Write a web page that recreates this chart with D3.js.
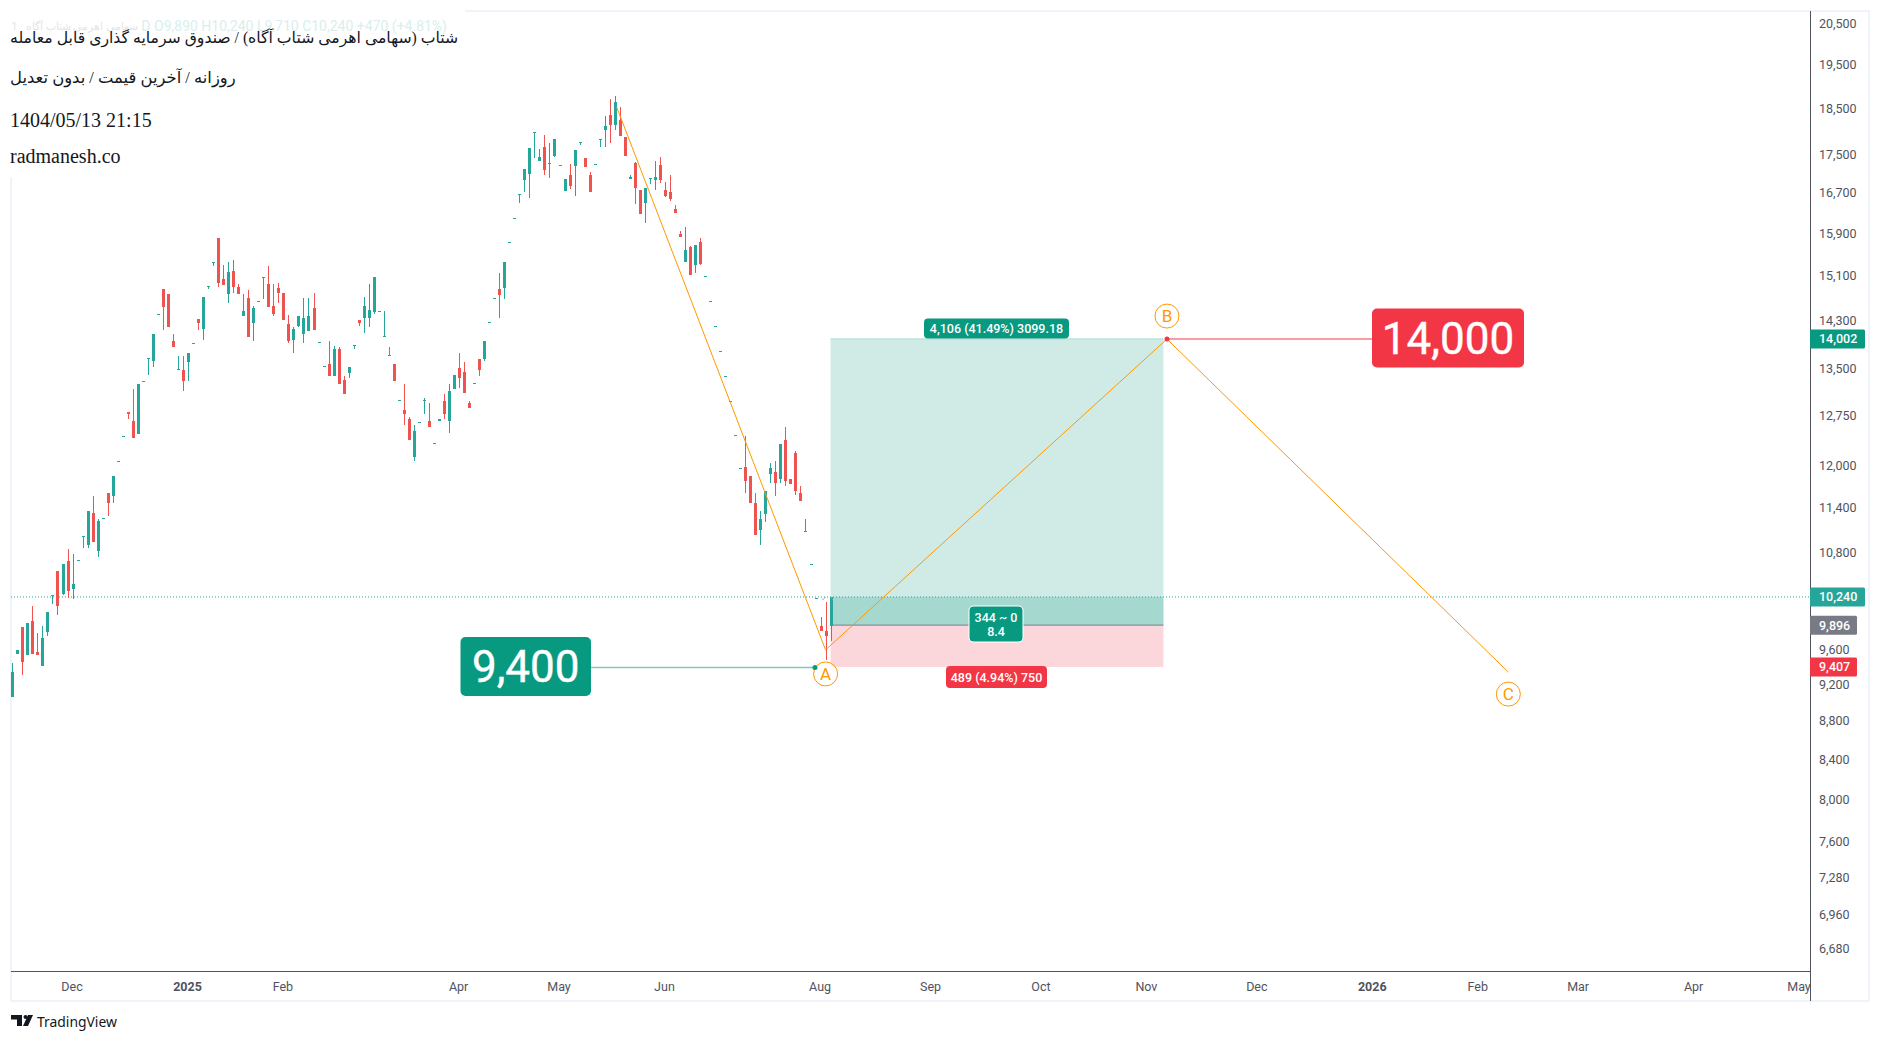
<!DOCTYPE html>
<html>
<head>
<meta charset="utf-8">
<script src="https://cdn.jsdelivr.net/npm/d3@7"></script>
<style>
  body { margin: 0; background: #fff; }
  svg { display: block; }
  text { font-family: Roboto, sans-serif; }
</style>
</head>
<body>
<svg id="chart" width="1880" height="1041"></svg>
<script>
// daily bars
const opens = [
  9070,9560,9870,9540,9950,9580,9420,9810,10270,10570,
  10280,10700,10340,10710,11030,10900,11340,10830,11270,11610,
  11570,12080,12450,12820,12680,12480,13310,13680,13640,14430,
  14870,14780,13960,13500,13490,13610,13940,14350,14180,14930,
  15370,15830,15050,14790,15210,14920,14390,14720,14270,14660,
  15100,14960,14580,14900,14810,14250,13990,14230,14080,14130,
  14530,13950,13550,13590,13390,13840,13330,13430,13900,14320,
  14370,14370,14460,14490,14050,13740,13590,13000,12850,12700,
  12130,12660,12980,12670,12340,12680,12990,12680,13180,13510,
  13460,12950,13270,13670,13660,14290,14720,14870,14900,15750,
  16220,16700,16970,17110,18000,17380,17680,17330,17470,17290,
  16760,17090,17260,17780,17430,17090,17310,17850,18050,18380,
  18140,18270,17880,16990,17340,16780,16520,17020,16970,17280,
  16780,16740,16400,15910,15380,15660,15320,15740,15110,14660,
  14220,13800,13390,12990,12460,11970,11990,11860,11470,11110,
  11330,11880,11920,11810,12390,11810,12200,11610,11090,10660,
  10230,9880,9820,9890
];
const highs = [
  9450,9600,9870,9920,10130,9800,9880,10050,10270,10570,
  10660,10850,10790,10710,11030,11360,11570,11260,11270,11610,
  11860,12080,12450,12820,13180,13260,13310,13680,14090,14430,
  14870,14780,14090,13720,13720,13770,13940,14350,14740,14930,
  15370,15830,15320,15380,15400,14970,14780,14850,14580,14660,
  15100,15290,14960,14990,14810,14420,14200,14390,14720,14720,
  14810,13950,13550,13960,13890,13870,13390,13540,13900,14320,
  14740,14960,15100,14490,14490,13870,13590,13000,13250,12730,
  12620,12660,13040,12950,12340,12710,13090,13250,13410,13770,
  13620,12990,13270,13670,13970,14290,14720,15160,15380,15750,
  16220,16700,17200,17640,18000,17620,17940,17750,17850,17290,
  16990,17320,17600,17780,17440,17150,17310,17850,18360,18720,
  18790,18560,17880,17090,17360,16780,16820,17020,17380,17450,
  16930,17090,16480,15970,16030,15680,15700,15820,15110,14660,
  14220,13800,13390,12990,12460,11970,12440,11860,11620,11360,
  11650,12040,12080,12320,12580,11810,12230,11720,11250,10660,
  10230,9990,10180,10240
];
const lows = [
  9070,9560,9310,9540,9550,9540,9420,9770,10150,10020,
  10270,10230,10210,10710,10860,10860,10940,10750,11270,11300,
  11480,12080,12450,12700,12410,12480,13310,13410,13540,14430,
  14150,14210,13870,13500,13140,13310,13940,14150,13990,14880,
  15290,14920,14940,14620,14810,14790,14390,14040,13970,14660,
  14690,14550,14390,14620,14330,13940,13760,14200,13940,14130,
  14160,13950,13550,13380,13390,13260,13100,13360,13840,14230,
  14110,14210,14440,14490,14050,13710,13310,13000,12620,12380,
  12080,12660,12780,12580,12340,12680,12710,12500,13170,13200,
  13120,12880,13270,13390,13640,14290,14720,14370,14690,15750,
  16220,16520,16740,16620,17430,17380,17090,17010,17450,17290,
  16760,16800,16660,17720,17240,16740,17310,17680,17680,17750,
  18030,17900,17470,16990,16500,16300,16110,16890,16780,16910,
  16640,16560,16320,15850,15380,15140,15160,15320,15110,14660,
  14220,13800,13390,12990,12460,11970,11620,11470,11040,10910,
  11210,11760,11580,11760,11720,11750,11590,11510,11090,10660,
  10230,9830,9490,9710
];
const closes = [
  9350,9600,9460,9920,9550,9540,9740,10050,10270,10130,
  10660,10320,10400,10710,11030,11360,10940,11230,11270,11470,
  11860,12080,12450,12780,12410,13260,13310,13680,14090,14430,
  14550,14210,13870,13500,13310,13770,13940,14280,14740,14930,
  15370,14990,14940,15180,14920,14790,14480,14040,14530,14660,
  15100,14550,14440,14800,14330,13960,14180,14390,14370,14390,
  14160,13950,13550,13380,13840,13260,13100,13540,13900,14270,
  14580,14510,15100,14490,14050,13710,13310,13000,12780,12380,
  12530,12660,13010,12580,12340,12710,12780,13140,13410,13350,
  13120,12880,13270,13490,13970,14290,14720,14760,15380,15750,
  16220,16700,17200,17640,18000,17450,17180,17340,17850,17290,
  16990,16850,17600,17780,17240,16740,17310,17850,18120,18160,
  18670,17900,17470,17050,16820,16300,16820,17020,17050,16970,
  16660,16600,16320,15850,15590,15140,15700,15340,15110,14660,
  14220,13800,13390,12990,12460,11970,11780,11480,11040,11250,
  11650,11980,11760,12320,11790,11750,11640,11510,11090,10660,
  10230,9830,9770,10240
];

const priceTicks = [20500,19500,18500,17500,16700,15900,15100,14300,13500,12750,12000,
  11400,10800,9600,9200,8800,8400,8000,7600,7280,6960,6680];
const timeTickBars = [12,35,54,89,109,130,161,183,205,226,248,271,292,312,335,356];
const timeTickNames = ["Dec","2025","Feb","Apr","May","Jun","Aug","Sep","Oct","Nov","Dec","2026","Feb","Mar","Apr","May"];

// hand drawn pattern and position tool, in bars and prices
const abcBars = [120.4,162,230,298];
const abcPrices = [18545,9603,14000,9348];
const abcNames = ["A","B","C"];
const entryPrice = 9896, targetPrice = 14002, stopPrice = 9407, lastPrice = 10240;
const toolStart = 163, toolEnd = 229.3;

const titleLines = [
  "شتاب (سهامی اهرمی شتاب آگاه) / صندوق سرمایه گذاری قابل معامله",
  "روزانه / آخرین قیمت / بدون تعدیل",
  "1404/05/13 21:15",
  "radmanesh.co"
];

const up = "#26a69a", down = "#ef5350", orange = "#ff9800";
const tvGreen = "#089981", tvRed = "#f23645";

const svg = d3.select("#chart");

const x = d3.scaleLinear().domain([0, 163]).range([12.3, 830.6]);
const y = d3.scaleLog().domain([20500, 6680]).range([24.6, 949.2]);

// frame
svg.append("rect").attr("x", 11).attr("y", 11).attr("width", 1858).attr("height", 990)
  .attr("fill", "none").attr("stroke", "#f0f3fa").attr("stroke-width", 2);

// position tool
const toolX = x(toolStart), toolW = x(toolEnd) - x(toolStart);
const band = (top, bottom, fill) => svg.append("rect")
  .attr("x", toolX).attr("width", toolW)
  .attr("y", y(top)).attr("height", y(bottom) - y(top))
  .attr("fill", fill);
band(targetPrice, lastPrice, "#d0ebe6");
band(lastPrice, entryPrice, "#a5d9d0");
band(entryPrice, stopPrice, "#fbd6da");
svg.append("line").attr("x1", toolX).attr("x2", toolX + toolW)
  .attr("y1", y(targetPrice)).attr("y2", y(targetPrice)).attr("stroke", "#a8dcd0");
svg.append("line").attr("x1", toolX).attr("x2", toolX + toolW)
  .attr("y1", y(entryPrice)).attr("y2", y(entryPrice)).attr("stroke", "#787b86");

// last price line
svg.append("line").attr("x1", 11).attr("x2", 1810)
  .attr("y1", y(lastPrice)).attr("y2", y(lastPrice))
  .attr("stroke", up).attr("stroke-dasharray", "1 2");

// candles
const bars = d3.range(opens.length);
const candles = svg.append("g").attr("shape-rendering", "crispEdges");
candles.selectAll("rect.wick").data(bars).join("rect")
  .attr("class", "wick")
  .attr("x", (i) => Math.round(x(i)))
  .attr("width", 1)
  .attr("y", (i) => y(highs[i]))
  .attr("height", (i) => y(lows[i]) - y(highs[i]))
  .attr("fill", (i) => (closes[i] >= opens[i] ? up : down));
candles.selectAll("rect.body").data(bars).join("rect")
  .attr("class", "body")
  .attr("x", (i) => Math.round(x(i)) - 1)
  .attr("width", 3)
  .attr("y", (i) => y(Math.max(opens[i], closes[i])))
  .attr("height", (i) => Math.max(1, Math.abs(y(opens[i]) - y(closes[i]))))
  .attr("fill", (i) => (closes[i] >= opens[i] ? up : down));

// ABC pattern
const abcLine = d3.line().x((d) => x(d[0])).y((d) => y(d[1]));
svg.append("path")
  .attr("d", abcLine(d3.zip(abcBars, abcPrices)))
  .attr("fill", "none").attr("stroke", orange).attr("stroke-width", 1);

const abcOffsets = [24, -23, 22];
abcNames.forEach((name, k) => {
  const cx = x(abcBars[k + 1]), cy = y(abcPrices[k + 1]) + abcOffsets[k];
  svg.append("circle").attr("cx", cx).attr("cy", cy).attr("r", 12)
    .attr("fill", "#fff").attr("fill-opacity", 0.6).attr("stroke", orange);
  svg.append("text").attr("x", cx).attr("y", cy + 6).attr("text-anchor", "middle")
    .attr("font-size", 17).attr("fill", orange).text(name);
});

// small grey ticks beside the last bar
const tipBars = [161.4, 162.9];
tipBars.forEach((b, k) => {
  const bx = x(b), by = y(lastPrice);
  svg.append("line").attr("x1", bx).attr("x2", bx + 3)
    .attr("y1", by + (k ? 0 : 3)).attr("y2", by + (k ? 3 : 0))
    .attr("stroke", "#9598a1");
});

// small tool labels
function toolLabel(cx, cy, w, h, fill, lines, outline) {
  svg.append("rect").attr("x", cx - w / 2).attr("y", cy - h / 2)
    .attr("width", w).attr("height", h).attr("rx", 4)
    .attr("fill", fill).attr("stroke", outline || "none");
  lines.forEach((t, k) => {
    svg.append("text").attr("x", cx)
      .attr("y", cy + 4.5 + (k - (lines.length - 1) / 2) * 14)
      .attr("text-anchor", "middle").attr("font-size", 12.5)
      .attr("font-weight", 500).attr("fill", "#fff").text(t);
  });
}
toolLabel(996.5, 328.5, 145, 20, tvGreen, ["4,106 (41.49%) 3099.18"]);
toolLabel(996, 624, 54, 36, tvGreen, ["344 ~ 0", "8.4"], "#fff");
toolLabel(996.5, 677, 101, 22, tvRed, ["489 (4.94%) 750"]);

// big price callouts
function callout(boxX, boxW, price, fromX, fill, lineColor, label) {
  const cy = y(price);
  svg.append("line").attr("x1", fromX).attr("x2", boxX + (fromX > boxX ? boxW : 0))
    .attr("y1", cy).attr("y2", cy).attr("stroke", lineColor).attr("stroke-width", 1.5);
  svg.append("circle").attr("cx", fromX).attr("cy", cy).attr("r", 2.5).attr("fill", fill);
  svg.append("rect").attr("x", boxX).attr("y", cy - 30.5).attr("width", boxW).attr("height", 59)
    .attr("rx", 5).attr("fill", fill);
  svg.append("text").attr("x", boxX + boxW / 2).attr("y", cy + 14.5)
    .attr("text-anchor", "middle").attr("font-size", 44)
    .attr("stroke", "#fff").attr("stroke-width", 0.4)
    .attr("fill", "#fff").text(label);
}
callout(460.5, 130.5, 9400, 815, tvGreen, "#7fcabd", "9,400");
callout(1372, 152, 14000, 1167, tvRed, "#f77c80", "14,000");

// price axis
const priceAxis = d3.axisRight(y).tickValues(priceTicks).tickSize(0).tickPadding(9)
  .tickFormat(d3.format(","));
const priceG = svg.append("g").attr("transform", "translate(1810,0)").call(priceAxis);
priceG.select(".domain").remove();
priceG.selectAll("text").attr("font-size", 12.5).attr("fill", "#50535e")
  .attr("transform", "translate(0,-1)");

// time axis
const timeAxis = d3.axisBottom(x).tickValues(timeTickBars).tickSize(0).tickPadding(11)
  .tickFormat((d, k) => timeTickNames[k]);
const timeG = svg.append("g").attr("transform", "translate(0,971)").call(timeAxis);
timeG.select(".domain").remove();
timeG.selectAll("text").attr("font-size", 12.5)
  .attr("fill", "#50535e")
  .attr("transform", "translate(-1,0)")
  .attr("font-weight", (d, k) => (/^\d/.test(timeTickNames[k]) ? 700 : 400));

svg.append("line").attr("x1", 1810.5).attr("x2", 1810.5).attr("y1", 11).attr("y2", 1001).attr("stroke", "#50535e");
svg.append("line").attr("x1", 11).attr("x2", 1810).attr("y1", 971.5).attr("y2", 971.5).attr("stroke", "#50535e");

// price tags
function priceTag(price, w, fill) {
  const cy = y(price);
  svg.append("rect").attr("x", 1810).attr("y", cy - 9.5).attr("width", w).attr("height", 19)
    .attr("rx", 1.5).attr("fill", fill);
  svg.append("text").attr("x", 1819).attr("y", cy + 4.5).attr("font-size", 12.5)
    .attr("font-weight", 500).attr("fill", "#fff").text(d3.format(",")(price));
}
priceTag(targetPrice, 55, tvGreen);
priceTag(lastPrice, 55, up);
priceTag(entryPrice, 47, "#787b86");
priceTag(stopPrice, 47, tvRed);

// white panel with the title text
svg.append("rect").attr("width", 465).attr("height", 177).attr("fill", "#fff");
svg.append("text").attr("x", 447).attr("y", 31).attr("text-anchor", "end")
  .attr("font-size", 14).attr("fill", up).attr("opacity", 0.18)
  .text("D  O9,890  H10,240  L9,710  C10,240  +470 (+4.81%)");
svg.append("text").attr("x", 138).attr("y", 30).attr("text-anchor", "start")
  .attr("direction", "rtl").attr("font-size", 11).attr("fill", "#787b86").attr("opacity", 0.2)
  .text("سهامی اهرمی شتاب آگاه · 1");

const titleY = [43, 83, 127, 163];
const titleSizes = [15.7, 16.4, 20, 20];
titleLines.forEach((t, k) => {
  svg.append("text").attr("x", 10).attr("y", titleY[k])
    .style("font-family", "'Liberation Serif', 'DejaVu Sans', serif")
    .attr("font-size", titleSizes[k])
    .attr("fill", "#131722")
    .text(t);
});

// TradingView mark
const logo = svg.append("g").attr("fill", "#131722");
logo.append("path").attr("d", "M11 1015h11v11h-5v-6.5h-6z");
logo.append("circle").attr("cx", 25.5).attr("cy", 1017).attr("r", 2);
logo.append("path").attr("d", "M28 1015h5l-5 11h-5z");
svg.append("text").attr("x", 37).attr("y", 1027).attr("font-size", 13.9)
  .style("font-family", "'Noto Sans', sans-serif").attr("fill", "#131722").text("TradingView");
</script>
</body>
</html>
